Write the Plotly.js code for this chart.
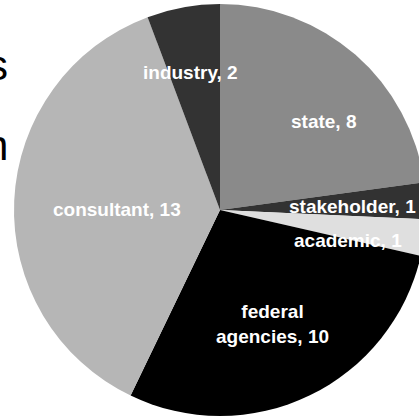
<!DOCTYPE html>
<html>
<head>
<meta charset="utf-8">
<script src="https://cdn.plot.ly/plotly-3.0.1.min.js"></script>
<style>
html, body { margin: 0; padding: 0; overflow: hidden; background: #fff; width: 419px; height: 419px; }
#chart { width: 440px; height: 419px; }
</style>
</head>
<body>
<div id="chart"></div>
<script>
// Data
const categories = ["state", "stakeholder", "academic", "federal agencies", "consultant", "industry"];
const counts = [8, 1, 1, 10, 13, 2];
const sliceColors = ["#8a8a8a", "#323232", "#dfdfdf", "#000000", "#b6b6b6", "#333333"];
const sideTexts = ["s", "n"];

// Label placement (pixels in the 440x419 figure)
const W = 440, H = 419;
const labelPos = [[323, 121], [352, 206], [348, 240], [272, 324], [117, 209], [190, 73]];
const sidePos = [[10, 65], [10, 145]];

const labelText = (name, v) => (name === "federal agencies" ? "federal<br>agencies" : name) + ", " + v;

const trace = {
  type: "pie",
  labels: categories,
  values: counts,
  sort: false,
  direction: "clockwise",
  rotation: 0,
  marker: { colors: sliceColors, line: { width: 0 } },
  textinfo: "none",
  hoverinfo: "label+value",
  showlegend: false,
  domain: { x: [14 / W, 426 / W], y: [3 / H, 415 / H] }
};

const annotations = categories.map((c, i) => ({
  xref: "paper", yref: "paper",
  x: labelPos[i][0] / W, y: 1 - labelPos[i][1] / H,
  xanchor: "center", yanchor: "middle",
  text: labelText(c, counts[i]),
  showarrow: false,
  font: { family: "Liberation Sans, Arial, sans-serif", size: 19, color: "#ffffff", weight: "bold" }
})).concat(sideTexts.map((t, i) => ({
  xref: "paper", yref: "paper",
  x: sidePos[i][0] / W, y: 1 - sidePos[i][1] / H,
  xanchor: "right", yanchor: "middle",
  text: t,
  showarrow: false,
  font: { family: "Liberation Sans, Arial, sans-serif", size: 42, color: "#000000" }
})));

const layout = {
  width: W, height: H,
  margin: { l: 0, r: 0, t: 0, b: 0 },
  paper_bgcolor: "#ffffff",
  plot_bgcolor: "#ffffff",
  annotations: annotations
};

Plotly.newPlot("chart", [trace], layout, { staticPlot: true, displayModeBar: false });
</script>
</body>
</html>
